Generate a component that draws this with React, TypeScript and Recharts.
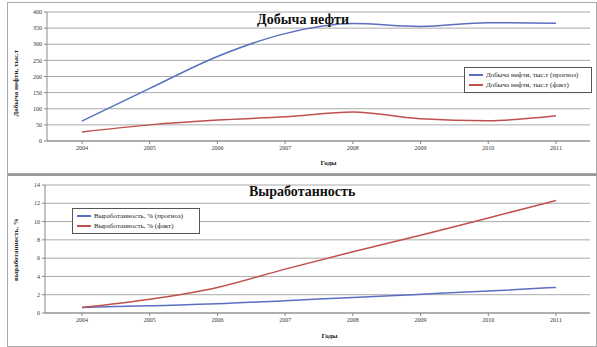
import React from 'react';
import { CartesianGrid, Legend, Line, LineChart, XAxis, YAxis } from 'recharts';

const years = ['2004', '2005', '2006', '2007', '2008', '2009', '2010', '2011'];

// добыча нефти, тыс.т
const oilForecast = [62, 163, 262, 333, 364, 355, 367, 365];
const oilActual = [28, 50, 65, 75, 90, 69, 63, 78];

// выработанность, %
const depletionForecast = [0.6, 0.8, 1.0, 1.35, 1.7, 2.05, 2.4, 2.8];
const depletionActual = [0.6, 1.5, 2.8, 4.8, 6.7, 8.5, 10.4, 12.3];

const oilTicks = [0, 50, 100, 150, 200, 250, 300, 350, 400];
const depletionTicks = [0, 2, 4, 6, 8, 10, 12, 14];

const oilData = years.map((year, i) => ({
	year,
	forecast: oilForecast[i],
	actual: oilActual[i],
}));

const depletionData = years.map((year, i) => ({
	year,
	forecast: depletionForecast[i],
	actual: depletionActual[i],
}));

const BLUE = '#5b6fc0';
const RED = '#c0504d';
const FONT = '"Liberation Serif", "DejaVu Serif", serif';
const tick = { fill: '#333', fontSize: 6, fontFamily: FONT };
const axisLabel = { fontSize: 7, fontFamily: FONT, fontWeight: 'bold', fill: '#222' };

function LegendBox({ payload }: any) {
	return (
		<div
			style={{
				border: '1px solid #555',
				background: '#fff',
				padding: '2px 4px',
				fontFamily: FONT,
				fontSize: 7,
				color: '#222',
				lineHeight: '10px',
				width: 118,
			}}
		>
			{payload.map((p: any) => (
				<div key={p.value} style={{ display: 'flex', alignItems: 'center' }}>
					<span style={{ display: 'inline-block', width: 14, height: 2, background: p.color, marginRight: 3 }} />
					{p.value}
				</div>
			))}
		</div>
	);
}

const titleStyle: React.CSSProperties = {
	position: 'absolute',
	fontFamily: FONT,
	fontWeight: 'bold',
	fontSize: 14,
	color: '#111',
	whiteSpace: 'nowrap',
};

export default function App() {
	return (
		<div style={{ position: 'absolute', left: 0, top: 0, width: 597, height: 347, background: '#fff' }}>
			<div style={{ position: 'absolute', left: 7, top: 2, width: 588, height: 170, border: '1px solid #aaa' }} />
			<div style={{ position: 'absolute', left: 7, top: 174, width: 588, height: 170, border: '1px solid #aaa', borderTop: '2px solid #999' }} />

			<div style={{ position: 'absolute', left: 0, top: 0 }}>
				<LineChart width={597} height={174} data={oilData} margin={{ top: 12, right: 7, bottom: 3, left: 0 }}>
					<CartesianGrid vertical={false} stroke="#aaa" />
					<XAxis
						dataKey="year"
						height={30}
						stroke="#888"
						tick={tick}
						tickSize={3}
						padding={{ left: 35, right: 34 }}
						label={{ value: 'Годы', position: 'insideBottom', offset: 6, dx: 10, style: axisLabel }}
					/>
					<YAxis
						width={47}
						domain={[0, 400]}
						ticks={oilTicks}
						stroke="#888"
						tick={tick}
						tickSize={3}
						interval={0}
						label={{ value: 'Добыча нефти, тыс.т', angle: -90, position: 'insideLeft', offset: 16, dy: 40, style: axisLabel }}
					/>
					<Legend
						layout="vertical"
						align="center"
						verticalAlign="middle"
						content={LegendBox}
						wrapperStyle={{ position: 'absolute', left: 464, top: 67, width: 128 }}
					/>
					<Line type="monotone" dataKey="forecast" name="Добыча нефти, тыс.т (прогноз)" stroke={BLUE} strokeWidth={1.5} dot={false} isAnimationActive={false} />
					<Line type="monotone" dataKey="actual" name="Добыча нефти, тыс.т (факт)" stroke={RED} strokeWidth={1.5} dot={false} isAnimationActive={false} />
				</LineChart>
			</div>
			<div style={{ ...titleStyle, left: 257, top: 12 }}>Добыча нефти</div>

			<div style={{ position: 'absolute', left: 0, top: 174 }}>
				<LineChart width={597} height={173} data={depletionData} margin={{ top: 11, right: 7, bottom: 4, left: 0 }}>
					<CartesianGrid vertical={false} stroke="#aaa" />
					<XAxis
						dataKey="year"
						height={30}
						stroke="#888"
						tick={tick}
						tickSize={3}
						padding={{ left: 37, right: 34 }}
						label={{ value: 'Годы', position: 'insideBottom', offset: 5, dx: 12, style: axisLabel }}
					/>
					<YAxis
						width={45}
						domain={[0, 14]}
						ticks={depletionTicks}
						stroke="#888"
						tick={tick}
						tickSize={3}
						interval={0}
						label={{ value: 'выработанность, %', angle: -90, position: 'insideLeft', offset: 16, dy: 32, style: axisLabel }}
					/>
					<Legend
						layout="vertical"
						align="center"
						verticalAlign="middle"
						content={LegendBox}
						wrapperStyle={{ position: 'absolute', left: 72, top: 34, width: 128 }}
					/>
					<Line type="monotone" dataKey="forecast" name="Выработанность, % (прогноз)" stroke={BLUE} strokeWidth={1.5} dot={false} isAnimationActive={false} />
					<Line type="monotone" dataKey="actual" name="Выработанность, % (факт)" stroke={RED} strokeWidth={1.5} dot={false} isAnimationActive={false} />
				</LineChart>
			</div>
			<div style={{ ...titleStyle, left: 249, top: 184 }}>Выработанность</div>
		</div>
	);
}
